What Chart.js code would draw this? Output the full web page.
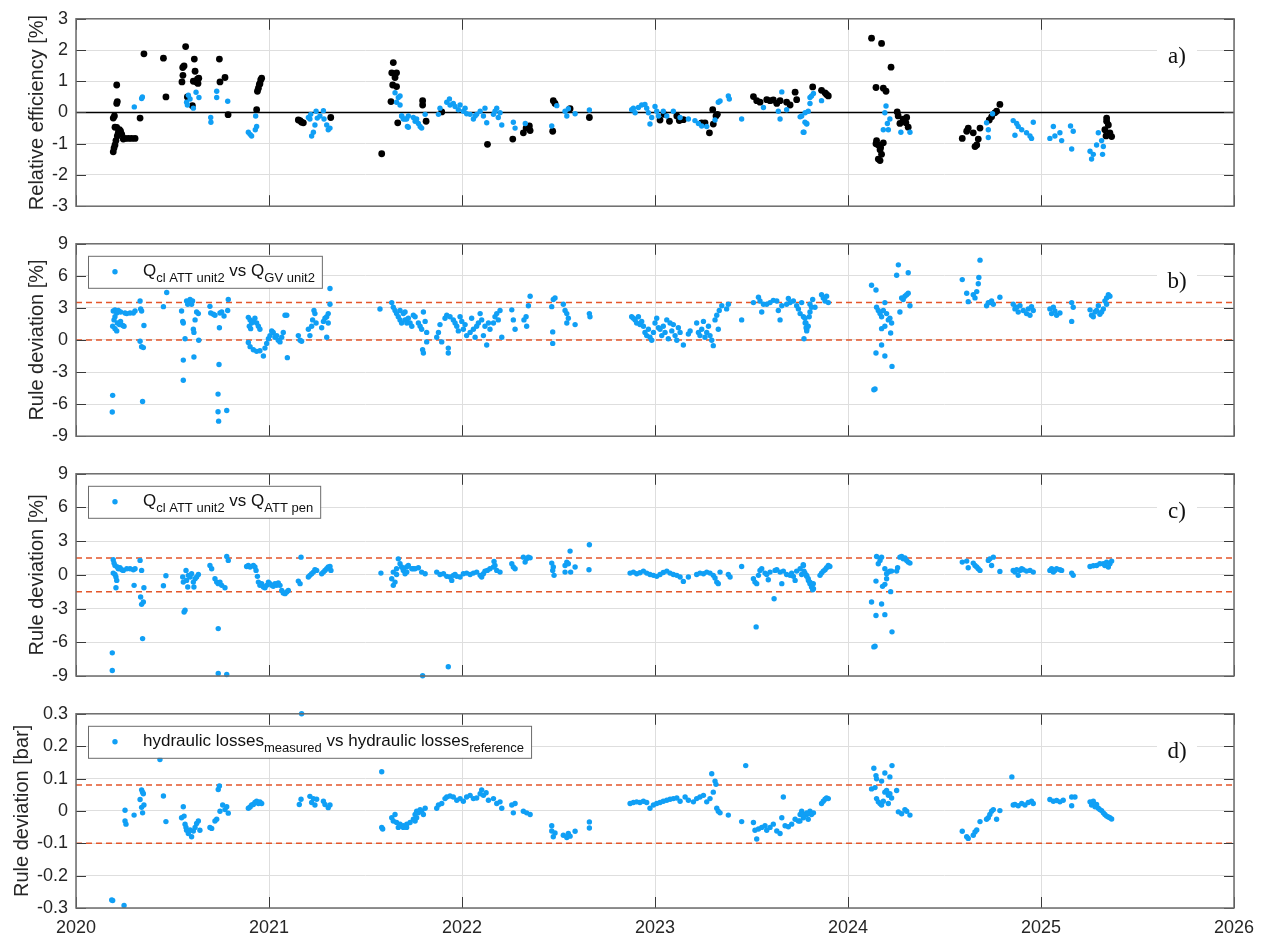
<!DOCTYPE html>
<html>
<head>
<meta charset="utf-8">
<title>Unit 2 monitoring</title>
<script src="https://cdn.jsdelivr.net/npm/chart.js@4.4.1/dist/chart.umd.min.js"></script>
<style>
  html, body { margin: 0; padding: 0; background: #fff; }
  #wrap { position: relative; width: 1266px; height: 937px; }
  #wrap canvas { position: absolute; left: 0; }
</style>
</head>
<body>
<div id="wrap">
  <canvas id="chartA" width="1266" height="225" style="top:0px"></canvas>
  <canvas id="chartB" width="1266" height="230" style="top:225px"></canvas>
  <canvas id="chartC" width="1266" height="240" style="top:455px"></canvas>
  <canvas id="chartD" width="1266" height="242" style="top:695px"></canvas>
</div>
<script>
// time axis in decimal years
const yearTicks = [2020, 2021, 2022, 2023, 2024, 2025, 2026];

// a) relative efficiency [%]
const effDark = [
  [2020.193,-1.26],[2020.197,-1.14],[2020.202,-1.04],[2020.207,-0.90],[2020.214,-0.75],[2020.219,-0.65],
  [2020.202,-0.47],[2020.211,-0.48],[2020.225,-0.55],[2020.231,-0.60],[2020.237,-0.70],[2020.193,-0.18],
  [2020.199,-0.11],[2020.211,0.29],[2020.214,0.35],[2020.211,0.88],[2020.245,-0.85],[2020.254,-0.83],
  [2020.271,-0.83],[2020.288,-0.83],[2020.306,-0.83],[2020.332,-0.18],[2020.352,1.88],[2020.453,1.74],
  [2020.466,0.50],[2020.549,0.98],[2020.554,1.19],[2020.553,1.44],[2020.560,1.49],[2020.568,2.11],
  [2020.577,0.50],[2020.603,0.22],[2020.613,1.71],[2020.617,1.32],[2020.608,1.00],[2020.625,0.97],
  [2020.629,1.07],[2020.636,1.10],[2020.632,0.93],[2020.743,1.71],[2020.746,0.98],[2020.772,1.12],
  [2020.788,-0.07],[2020.936,0.09],[2020.940,0.68],[2020.945,0.78],[2020.950,0.90],[2020.953,0.92],
  [2020.957,1.04],[2020.962,1.10],[2021.152,-0.24],[2021.161,-0.26],[2021.169,-0.31],[2021.178,-0.33],
  [2021.320,-0.16],[2021.584,-1.32],[2021.632,0.35],[2021.636,1.27],[2021.641,0.88],[2021.644,1.60],
  [2021.653,1.12],[2021.661,1.27],[2021.661,0.83],[2021.667,-0.33],[2021.796,0.38],[2021.796,0.24],
  [2021.814,-0.28],[2021.895,0.02],[2022.132,-1.02],[2022.263,-0.85],[2022.318,-0.65],[2022.332,-0.50],
  [2022.349,-0.43],[2022.353,-0.58],[2022.470,-0.60],[2022.473,0.38],[2022.482,0.29],[2022.560,0.12],
  [2022.660,-0.16],[2023.026,-0.24],[2023.047,-0.06],[2023.075,-0.28],[2023.113,-0.11],[2023.126,-0.26],
  [2023.147,-0.23],[2023.242,-0.33],[2023.259,-0.33],[2023.282,-0.65],[2023.299,0.09],[2023.302,-0.37],
  [2023.316,-0.11],[2023.323,-0.06],[2023.510,0.51],[2023.527,0.38],[2023.544,0.33],[2023.579,0.41],
  [2023.596,0.38],[2023.613,0.40],[2023.631,0.29],[2023.648,0.38],[2023.682,0.33],[2023.700,0.24],
  [2023.726,0.65],[2023.734,0.41],[2023.817,0.82],[2023.863,0.71],[2023.881,0.63],[2023.889,0.58],
  [2023.898,0.53],[2024.122,2.38],[2024.174,2.21],[2024.223,1.45],[2024.145,0.80],[2024.183,0.78],
  [2024.197,0.68],[2024.255,0.02],[2024.260,-0.11],[2024.269,-0.35],[2024.286,-0.21],[2024.300,-0.33],
  [2024.312,-0.47],[2024.304,-0.16],[2024.148,-0.90],[2024.157,-1.04],[2024.166,-1.19],[2024.174,-1.34],
  [2024.166,-1.54],[2024.157,-1.49],[2024.183,-0.97],[2024.145,-1.00],[2024.169,-1.12],[2024.592,-0.83],
  [2024.615,-0.60],[2024.623,-0.50],[2024.649,-0.65],[2024.658,-1.09],[2024.667,-1.04],[2024.675,-0.85],
  [2024.684,-0.50],[2024.732,-0.24],[2024.744,-0.14],[2024.761,-0.01],[2024.770,0.04],[2024.787,0.26],
  [2025.340,-0.18],[2025.340,-0.28],[2025.349,-0.40],[2025.331,-0.55],[2025.357,-0.65],[2025.366,-0.77],
  [2025.337,-0.75]
];
const effBlue = [
  [2020.302,0.18],[2020.340,0.45],[2020.344,0.50],[2020.573,0.33],[2020.577,0.24],[2020.582,0.55],
  [2020.591,0.43],[2020.608,0.14],[2020.622,0.65],[2020.637,0.48],[2020.698,-0.16],[2020.699,-0.31],
  [2020.729,0.68],[2020.729,0.48],[2020.786,0.36],[2020.893,-0.63],[2020.902,-0.70],[2020.910,-0.75],
  [2020.929,-0.55],[2020.936,-0.45],[2020.931,-0.11],[2021.204,-0.16],[2021.212,-0.21],[2021.216,-0.06],
  [2021.221,-0.75],[2021.230,-0.63],[2021.238,-0.40],[2021.244,0.04],[2021.250,-0.18],[2021.264,-0.11],
  [2021.282,0.06],[2021.285,-0.21],[2021.299,-0.40],[2021.307,-0.55],[2021.316,-0.50],[2021.653,0.63],
  [2021.670,0.48],[2021.679,0.24],[2021.661,0.33],[2021.687,-0.11],[2021.696,-0.21],[2021.713,-0.21],
  [2021.717,-0.45],[2021.679,0.53],[2021.688,-0.11],[2021.705,-0.21],[2021.722,-0.11],[2021.748,-0.16],
  [2021.757,-0.28],[2021.765,-0.21],[2021.774,-0.35],[2021.783,-0.45],[2021.791,-0.50],[2021.809,-0.06],
  [2021.722,-0.47],[2021.878,-0.06],[2021.886,0.14],[2021.921,0.33],[2021.935,0.43],[2021.938,0.24],
  [2021.955,0.29],[2021.964,0.19],[2021.981,0.09],[2021.990,0.24],[2022.007,0.04],[2022.016,0.14],
  [2022.024,-0.04],[2022.042,-0.06],[2022.059,-0.21],[2022.068,-0.11],[2022.076,-0.06],[2022.094,0.04],
  [2022.111,-0.11],[2022.119,0.14],[2022.128,-0.33],[2022.163,-0.06],[2022.171,0.04],[2022.180,0.14],
  [2022.188,-0.16],[2022.197,-0.01],[2022.206,-0.40],[2022.266,-0.31],[2022.275,-0.50],[2022.328,-0.35],
  [2022.465,-0.43],[2022.491,0.22],[2022.534,0.04],[2022.543,-0.11],[2022.551,0.12],[2022.586,-0.04],
  [2022.660,0.08],[2022.879,0.09],[2022.888,0.14],[2022.897,-0.01],[2022.914,0.16],[2022.931,0.24],
  [2022.948,0.26],[2022.957,0.14],[2022.966,-0.01],[2022.974,-0.37],[2022.983,-0.16],[2023.000,0.19],
  [2023.009,0.04],[2023.018,-0.11],[2023.043,0.04],[2023.061,-0.11],[2023.095,0.04],[2023.130,-0.16],
  [2023.173,-0.21],[2023.207,-0.26],[2023.225,-0.35],[2023.242,-0.43],[2023.268,-0.45],[2023.311,-0.24],
  [2023.328,0.33],[2023.337,0.37],[2023.380,0.53],[2023.385,0.43],[2023.449,-0.21],[2023.562,0.16],
  [2023.657,0.66],[2023.639,0.04],[2023.648,-0.21],[2023.682,0.09],[2023.752,-0.14],[2023.778,-0.01],
  [2023.786,-0.35],[2023.772,-0.63],[2023.803,0.48],[2023.821,0.61],[2023.760,-0.11],[2023.777,-0.31],
  [2023.786,-0.37],[2023.794,0.04],[2023.803,0.29],[2023.811,0.53],[2023.768,-0.63],[2023.863,0.38],
  [2024.191,-0.01],[2024.197,0.21],[2024.204,-0.35],[2024.217,-0.21],[2024.183,-0.55],[2024.209,-0.55],
  [2024.274,-0.63],[2024.321,-0.63],[2024.718,-0.33],[2024.727,-0.80],[2024.727,-0.55],[2024.749,-0.04],
  [2024.856,-0.26],[2024.874,-0.35],[2024.865,-0.73],[2024.882,-0.45],[2024.900,-0.55],[2024.925,-0.65],
  [2024.943,-0.75],[2024.960,-0.31],[2024.951,-0.83],[2025.046,-0.83],[2025.064,-0.45],[2025.072,-0.75],
  [2025.098,-0.65],[2025.107,-0.90],[2025.153,-0.43],[2025.167,-0.60],[2025.159,-1.17],[2025.254,-1.24],
  [2025.262,-1.49],[2025.271,-1.34],[2025.288,-1.04],[2025.297,-0.65],[2025.314,-0.90],[2025.323,-1.09],
  [2025.319,-1.34]
];

// b) Q cl ATT unit2 vs Q GV unit2 [%]
const devGv = [
  [2020.190,-5.18],[2020.188,-6.74],[2020.193,2.71],[2020.202,2.82],[2020.211,2.53],[2020.202,2.18],
  [2020.197,1.88],[2020.190,1.29],[2020.202,1.06],[2020.211,0.85],[2020.214,1.59],[2020.225,1.44],
  [2020.231,1.74],[2020.242,1.35],[2020.249,1.29],[2020.219,2.76],[2020.231,2.62],[2020.254,2.53],
  [2020.263,2.47],[2020.280,2.53],[2020.297,2.53],[2020.306,2.71],[2020.332,3.65],[2020.335,2.91],
  [2020.340,2.71],[2020.332,-0.12],[2020.340,-0.62],[2020.349,-0.71],[2020.352,1.35],[2020.345,-5.76],
  [2020.453,3.12],[2020.470,4.44],[2020.547,2.71],[2020.553,1.74],[2020.556,1.59],[2020.565,0.12],
  [2020.556,-1.88],[2020.556,-3.76],[2020.573,3.65],[2020.579,3.35],[2020.591,3.79],[2020.599,3.35],
  [2020.604,3.65],[2020.608,1.00],[2020.611,0.71],[2020.617,1.88],[2020.625,2.62],[2020.634,2.47],
  [2020.611,-1.59],[2020.636,-0.03],[2020.694,3.15],[2020.698,2.53],[2020.712,2.41],[2020.720,2.32],
  [2020.746,2.53],[2020.755,2.62],[2020.743,1.15],[2020.741,-2.29],[2020.736,-5.06],[2020.736,-6.71],
  [2020.739,-7.59],[2020.781,-6.59],[2020.789,3.79],[2020.786,2.76],[2020.767,2.24],[2020.893,2.12],
  [2020.902,1.88],[2020.898,1.29],[2020.905,1.06],[2020.910,1.59],[2020.919,1.74],[2020.927,2.03],
  [2020.936,1.59],[2020.945,1.29],[2020.953,1.00],[2020.893,-0.24],[2020.902,-0.62],[2020.919,-0.91],
  [2020.936,-1.06],[2020.953,-1.00],[2020.971,-1.50],[2020.979,-0.76],[2020.988,-0.32],[2020.997,0.12],
  [2021.005,0.41],[2021.014,0.85],[2021.022,0.71],[2021.031,0.26],[2021.040,0.41],[2021.048,-0.03],
  [2021.057,-0.18],[2021.066,0.26],[2021.074,0.71],[2021.083,2.32],[2021.092,2.32],[2021.095,-1.65],
  [2021.152,0.41],[2021.161,-0.03],[2021.169,-0.12],[2021.204,1.00],[2021.212,0.41],[2021.221,1.29],
  [2021.226,1.88],[2021.233,2.76],[2021.238,2.47],[2021.244,1.59],[2021.273,1.15],[2021.282,1.74],
  [2021.290,2.03],[2021.299,2.18],[2021.307,1.59],[2021.316,4.82],[2021.316,3.35],[2021.307,2.47],
  [2021.299,0.26],[2021.575,2.90],[2021.636,3.50],[2021.644,3.06],[2021.653,2.76],[2021.661,2.47],
  [2021.670,2.18],[2021.679,1.88],[2021.687,1.59],[2021.705,2.62],[2021.713,1.88],[2021.731,1.59],
  [2021.740,1.29],[2021.748,2.32],[2021.679,2.76],[2021.696,2.47],[2021.705,1.88],[2021.714,1.59],
  [2021.722,2.03],[2021.757,2.18],[2021.774,1.59],[2021.783,1.29],[2021.791,1.00],[2021.800,2.62],
  [2021.809,1.74],[2021.817,0.71],[2021.796,-0.91],[2021.800,-1.21],[2021.817,-0.18],[2021.869,0.26],
  [2021.878,0.71],[2021.886,1.44],[2021.895,-0.18],[2021.912,2.03],[2021.921,2.32],[2021.929,-0.76],
  [2021.929,-1.21],[2021.938,2.18],[2021.955,1.88],[2021.964,1.59],[2021.973,1.29],[2021.981,0.85],
  [2021.990,2.18],[2021.999,1.74],[2022.007,1.00],[2022.016,1.44],[2022.024,0.41],[2022.042,0.71],
  [2022.050,2.03],[2022.059,1.00],[2022.068,0.26],[2022.076,1.29],[2022.085,1.59],[2022.094,2.47],
  [2022.102,1.88],[2022.111,0.41],[2022.119,1.29],[2022.128,-0.47],[2022.137,1.59],[2022.145,1.00],
  [2022.163,1.59],[2022.171,2.18],[2022.180,2.47],[2022.188,1.88],[2022.197,2.76],[2022.206,0.26],
  [2022.258,2.82],[2022.266,1.88],[2022.275,1.00],[2022.321,1.88],[2022.332,2.18],[2022.335,1.29],
  [2022.344,3.21],[2022.353,4.09],[2022.465,3.12],[2022.473,3.79],[2022.482,3.94],[2022.470,0.76],
  [2022.470,-0.32],[2022.525,3.35],[2022.534,2.76],[2022.543,2.47],[2022.543,1.59],[2022.551,2.03],
  [2022.586,1.44],[2022.660,2.47],[2022.663,2.18],[2022.879,2.18],[2022.888,2.03],[2022.897,1.88],
  [2022.905,1.59],[2022.914,2.18],[2022.922,1.44],[2022.931,1.74],[2022.940,1.29],[2022.948,0.71],
  [2022.957,0.41],[2022.966,1.00],[2022.974,0.26],[2022.983,-0.03],[2022.992,0.71],[2023.000,1.59],
  [2023.009,2.03],[2023.018,1.15],[2023.026,1.00],[2023.035,0.41],[2023.043,1.29],[2023.052,0.71],
  [2023.061,1.88],[2023.069,0.12],[2023.078,1.59],[2023.087,0.85],[2023.095,1.44],[2023.104,0.41],
  [2023.113,-0.03],[2023.121,1.15],[2023.130,0.71],[2023.147,-0.47],[2023.173,0.56],[2023.182,0.85],
  [2023.216,1.59],[2023.225,0.71],[2023.233,0.41],[2023.242,1.00],[2023.251,1.74],[2023.259,0.26],
  [2023.268,0.71],[2023.277,1.29],[2023.285,0.41],[2023.294,-0.03],[2023.302,-0.53],[2023.311,1.88],
  [2023.320,2.32],[2023.328,1.00],[2023.333,2.76],[2023.346,3.21],[2023.371,2.91],[2023.380,3.35],
  [2023.449,1.88],[2023.510,3.50],[2023.536,4.00],[2023.544,3.65],[2023.553,2.62],[2023.562,3.35],
  [2023.579,3.35],[2023.596,3.50],[2023.613,3.71],[2023.631,3.65],[2023.639,2.76],[2023.648,1.88],
  [2023.657,3.21],[2023.682,3.35],[2023.691,3.88],[2023.700,3.50],[2023.717,3.65],[2023.734,3.21],
  [2023.743,2.91],[2023.752,2.47],[2023.760,3.50],[2023.769,2.18],[2023.778,1.59],[2023.783,1.15],
  [2023.786,0.85],[2023.772,0.12],[2023.803,3.35],[2023.817,3.79],[2023.829,3.06],[2023.777,2.03],
  [2023.782,1.59],[2023.786,1.00],[2023.794,1.29],[2023.799,2.18],[2023.803,2.62],[2023.811,3.06],
  [2023.863,4.24],[2023.872,3.94],[2023.881,3.65],[2023.889,4.09],[2023.898,3.50],[2024.122,5.12],
  [2024.145,4.68],[2024.140,-4.59],[2024.134,-4.65],[2024.148,3.06],[2024.157,2.76],[2024.166,2.47],
  [2024.174,2.18],[2024.183,2.76],[2024.191,3.50],[2024.200,2.47],[2024.209,1.88],[2024.217,2.03],
  [2024.226,1.59],[2024.174,1.06],[2024.191,1.29],[2024.221,0.65],[2024.174,-0.47],[2024.145,-1.21],
  [2024.191,-1.50],[2024.228,-2.47],[2024.252,6.06],[2024.261,7.03],[2024.312,6.29],[2024.269,2.62],
  [2024.278,3.94],[2024.286,3.79],[2024.295,4.09],[2024.304,4.24],[2024.312,4.38],[2024.321,3.21],
  [2024.592,5.65],[2024.615,4.38],[2024.623,3.59],[2024.649,4.24],[2024.658,3.94],[2024.667,4.53],
  [2024.675,5.26],[2024.678,5.85],[2024.684,7.47],[2024.718,3.21],[2024.727,3.50],[2024.735,3.50],
  [2024.744,3.65],[2024.753,3.35],[2024.787,4.00],[2024.856,3.35],[2024.865,2.91],[2024.874,3.06],
  [2024.882,2.62],[2024.891,3.21],[2024.908,2.76],[2024.925,2.47],[2024.934,2.91],[2024.943,2.32],
  [2024.951,3.12],[2024.960,2.76],[2025.046,2.91],[2025.055,2.47],[2025.064,3.06],[2025.072,2.71],
  [2025.081,2.32],[2025.098,2.53],[2025.159,3.50],[2025.167,3.06],[2025.159,1.74],[2025.254,2.82],
  [2025.262,2.32],[2025.271,2.18],[2025.280,2.62],[2025.288,2.76],[2025.297,3.21],[2025.305,2.41],
  [2025.314,2.62],[2025.323,2.91],[2025.331,3.65],[2025.340,3.94],[2025.349,4.24],[2025.357,4.09],
  [2025.340,3.35]
];

// c) Q cl ATT unit2 vs Q ATT pen [%]
const devPen = [
  [2020.188,-6.94],[2020.188,-8.51],[2020.193,1.35],[2020.197,1.05],[2020.202,0.84],[2020.193,0.16],
  [2020.202,0.04],[2020.207,-0.19],[2020.211,-0.49],[2020.207,-1.14],[2020.214,0.70],[2020.219,0.55],
  [2020.228,0.64],[2020.237,0.46],[2020.245,0.40],[2020.263,0.55],[2020.280,0.55],[2020.297,0.46],
  [2020.306,0.55],[2020.301,-0.93],[2020.332,1.29],[2020.340,0.40],[2020.335,-1.97],[2020.340,-2.62],
  [2020.349,-2.41],[2020.345,-5.67],[2020.352,-1.14],[2020.453,-0.96],[2020.466,-0.07],[2020.553,-0.19],
  [2020.556,-0.64],[2020.565,-3.15],[2020.560,-3.30],[2020.570,0.40],[2020.573,-0.49],[2020.579,-1.08],
  [2020.582,-0.04],[2020.591,-0.19],[2020.599,0.10],[2020.608,-0.64],[2020.617,-0.34],[2020.625,-0.19],
  [2020.634,0.04],[2020.611,-1.08],[2020.694,0.84],[2020.703,0.55],[2020.720,-0.34],[2020.729,-0.64],
  [2020.737,-0.78],[2020.746,-0.64],[2020.755,-0.93],[2020.772,-1.14],[2020.781,1.64],[2020.789,1.29],
  [2020.737,-4.78],[2020.737,-8.77],[2020.781,-8.86],[2020.884,0.75],[2020.893,0.84],[2020.902,0.70],
  [2020.919,0.84],[2020.927,0.70],[2020.933,0.40],[2020.940,-0.13],[2020.945,-0.64],[2020.953,-0.93],
  [2020.962,-0.78],[2020.971,-1.08],[2020.979,-1.14],[2020.988,-0.93],[2020.997,-0.64],[2021.005,-0.78],
  [2021.014,-0.93],[2021.022,-1.02],[2021.031,-0.78],[2021.040,-0.93],[2021.048,-0.72],[2021.057,-0.93],
  [2021.066,-1.38],[2021.074,-1.61],[2021.083,-1.67],[2021.092,-1.52],[2021.100,-1.38],[2021.152,-0.55],
  [2021.161,-0.78],[2021.166,1.58],[2021.204,-0.19],[2021.212,-0.04],[2021.221,0.10],[2021.230,0.25],
  [2021.238,0.46],[2021.247,0.40],[2021.273,0.10],[2021.282,0.25],[2021.290,0.40],[2021.299,0.55],
  [2021.307,0.70],[2021.316,0.75],[2021.321,0.40],[2021.580,0.16],[2021.636,-0.34],[2021.644,-0.93],
  [2021.653,-0.64],[2021.661,0.55],[2021.670,1.43],[2021.679,0.99],[2021.687,0.70],[2021.696,0.40],
  [2021.705,0.10],[2021.713,0.70],[2021.722,0.84],[2021.644,0.25],[2021.661,0.04],[2021.748,0.55],
  [2021.774,0.64],[2021.696,0.55],[2021.714,0.25],[2021.740,0.55],[2021.757,0.55],[2021.791,0.25],
  [2021.809,0.10],[2021.796,-8.98],[2021.929,-8.18],[2021.869,0.25],[2021.886,0.04],[2021.904,0.10],
  [2021.921,-0.13],[2021.938,-0.19],[2021.947,-0.49],[2021.955,-0.04],[2021.964,0.04],[2021.973,-0.13],
  [2021.990,-0.19],[2022.007,0.10],[2022.024,0.16],[2022.042,0.04],[2022.059,0.16],[2022.076,0.25],
  [2022.094,-0.04],[2022.102,-0.19],[2022.111,0.10],[2022.119,0.34],[2022.131,0.40],[2022.145,0.55],
  [2022.163,0.70],[2022.166,1.20],[2022.171,0.84],[2022.180,0.40],[2022.197,0.25],[2022.258,0.99],
  [2022.266,0.70],[2022.275,0.55],[2022.318,1.58],[2022.327,1.14],[2022.335,1.43],[2022.344,1.58],
  [2022.353,1.52],[2022.465,1.05],[2022.473,0.70],[2022.477,-0.04],[2022.470,0.40],[2022.534,0.84],
  [2022.543,1.14],[2022.551,0.99],[2022.560,2.12],[2022.563,0.25],[2022.534,0.25],[2022.586,0.70],
  [2022.660,2.68],[2022.658,0.46],[2022.871,0.16],[2022.888,0.25],[2022.905,0.10],[2022.922,0.19],
  [2022.940,0.34],[2022.957,0.16],[2022.974,0.04],[2022.992,-0.04],[2023.009,-0.13],[2023.026,0.04],
  [2023.043,0.22],[2023.061,0.34],[2023.078,0.16],[2023.095,0.04],[2023.113,-0.04],[2023.130,-0.19],
  [2023.147,-0.58],[2023.173,-0.19],[2023.216,0.04],[2023.233,0.16],[2023.251,0.10],[2023.268,0.25],
  [2023.285,0.16],[2023.302,-0.04],[2023.311,-0.28],[2023.320,-0.64],[2023.328,-0.78],[2023.337,0.25],
  [2023.380,0.04],[2023.389,-0.19],[2023.449,0.75],[2023.510,-0.34],[2023.518,-0.64],[2023.524,-4.63],
  [2023.527,-0.78],[2023.536,-0.04],[2023.544,0.40],[2023.553,0.55],[2023.570,0.16],[2023.579,0.04],
  [2023.587,-0.43],[2023.596,0.25],[2023.617,-2.12],[2023.622,0.40],[2023.631,0.46],[2023.648,0.25],
  [2023.657,-0.78],[2023.665,0.34],[2023.682,0.04],[2023.700,-0.04],[2023.708,0.16],[2023.717,-0.13],
  [2023.726,-0.49],[2023.734,0.34],[2023.752,0.55],[2023.760,0.04],[2023.769,0.84],[2023.772,0.34],
  [2023.786,-0.13],[2023.795,-0.49],[2023.803,-0.78],[2023.812,-1.02],[2023.821,-1.23],[2023.768,0.90],
  [2023.777,0.16],[2023.786,-0.04],[2023.794,-0.34],[2023.803,-0.64],[2023.811,-1.08],[2023.817,-1.32],
  [2023.820,-0.78],[2023.855,-0.04],[2023.863,0.16],[2023.872,0.34],[2023.881,0.46],[2023.889,0.64],
  [2023.898,0.84],[2023.906,0.75],[2024.122,-2.41],[2024.145,-0.55],[2024.148,1.64],[2024.157,0.99],
  [2024.166,1.29],[2024.174,1.58],[2024.145,-3.62],[2024.174,-2.59],[2024.191,-3.54],[2024.179,-1.02],
  [2024.191,-0.84],[2024.200,-0.34],[2024.209,0.25],[2024.217,0.34],[2024.226,0.34],[2024.200,0.10],
  [2024.191,0.55],[2024.221,-1.49],[2024.228,-5.07],[2024.140,-6.35],[2024.134,-6.41],[2024.252,0.34],
  [2024.257,0.64],[2024.269,1.58],[2024.278,1.64],[2024.286,1.43],[2024.295,1.52],[2024.304,1.29],
  [2024.312,1.14],[2024.321,1.05],[2024.592,1.14],[2024.615,1.23],[2024.623,0.64],[2024.649,1.05],
  [2024.658,0.84],[2024.667,0.70],[2024.675,0.55],[2024.684,0.40],[2024.727,1.29],[2024.735,1.43],
  [2024.744,0.84],[2024.753,1.58],[2024.787,0.31],[2024.856,0.40],[2024.865,0.25],[2024.874,0.46],
  [2024.882,-0.04],[2024.891,0.40],[2024.900,0.55],[2024.908,0.46],[2024.925,0.34],[2024.943,0.40],
  [2024.960,0.25],[2025.046,0.40],[2025.055,0.55],[2025.064,0.25],[2025.072,0.40],[2025.081,0.55],
  [2025.098,0.46],[2025.107,0.40],[2025.159,0.16],[2025.167,-0.04],[2025.254,0.75],[2025.271,0.81],
  [2025.288,0.84],[2025.305,0.99],[2025.323,0.99],[2025.331,0.84],[2025.340,1.14],[2025.349,0.70],
  [2025.357,0.99],[2025.366,1.23]
];

// d) hydraulic losses measured vs reference [bar]
const lossDev = [
  [2020.185,-0.275],[2020.190,-0.277],[2020.249,-0.292],[2020.254,0.002],[2020.254,-0.031],[2020.259,-0.041],
  [2020.301,-0.013],[2020.332,0.035],[2020.340,0.065],[2020.345,0.058],[2020.349,0.053],[2020.340,0.011],
  [2020.345,-0.006],[2020.352,0.018],[2020.435,0.159],[2020.453,0.046],[2020.466,-0.033],[2020.547,-0.021],
  [2020.556,0.013],[2020.560,-0.016],[2020.565,-0.041],[2020.570,-0.051],[2020.573,-0.060],[2020.582,-0.070],
  [2020.591,-0.059],[2020.599,-0.080],[2020.608,-0.062],[2020.617,-0.051],[2020.625,-0.039],[2020.634,-0.031],
  [2020.642,-0.060],[2020.694,-0.051],[2020.703,-0.054],[2020.720,-0.031],[2020.729,-0.026],[2020.737,0.066],
  [2020.743,0.077],[2020.746,-0.001],[2020.760,0.018],[2020.772,0.004],[2020.781,0.013],[2020.789,-0.007],
  [2020.893,0.008],[2020.902,0.012],[2020.910,0.018],[2020.919,0.020],[2020.927,0.026],[2020.936,0.030],
  [2020.945,0.023],[2020.953,0.028],[2020.962,0.023],[2021.169,0.300],[2021.157,0.020],[2021.166,0.036],
  [2021.212,0.045],[2021.221,0.026],[2021.230,0.038],[2021.238,0.018],[2021.247,0.036],[2021.282,0.030],
  [2021.290,0.020],[2021.307,0.010],[2021.316,0.018],[2021.584,0.121],[2021.584,-0.051],[2021.589,-0.056],
  [2021.636,-0.021],[2021.644,-0.031],[2021.653,-0.011],[2021.661,-0.036],[2021.670,-0.051],[2021.679,-0.041],
  [2021.696,-0.046],[2021.713,-0.051],[2021.731,-0.036],[2021.748,-0.026],[2021.757,-0.011],[2021.765,-0.001],
  [2021.679,-0.046],[2021.696,-0.051],[2021.714,-0.041],[2021.757,-0.031],[2021.765,-0.021],[2021.774,-0.006],
  [2021.783,0.004],[2021.791,-0.001],[2021.800,-0.011],[2021.809,0.008],[2021.869,0.008],[2021.878,0.018],
  [2021.895,0.023],[2021.912,0.038],[2021.921,0.043],[2021.938,0.046],[2021.955,0.043],[2021.973,0.033],
  [2021.990,0.038],[2022.007,0.030],[2022.024,0.043],[2022.042,0.048],[2022.059,0.038],[2022.076,0.040],
  [2022.094,0.053],[2022.102,0.065],[2022.111,0.048],[2022.125,0.056],[2022.137,0.033],[2022.163,0.038],
  [2022.180,0.023],[2022.197,0.028],[2022.206,0.008],[2022.258,0.018],[2022.266,-0.006],[2022.275,0.023],
  [2022.318,-0.001],[2022.335,-0.006],[2022.353,-0.011],[2022.465,-0.046],[2022.465,-0.062],[2022.473,-0.080],
  [2022.482,-0.068],[2022.525,-0.075],[2022.543,-0.082],[2022.551,-0.070],[2022.560,-0.078],[2022.586,-0.063],
  [2022.660,-0.034],[2022.660,-0.053],[2022.871,0.023],[2022.888,0.026],[2022.905,0.028],[2022.922,0.026],
  [2022.940,0.030],[2022.957,0.026],[2022.974,0.008],[2022.992,0.018],[2023.009,0.023],[2023.026,0.026],
  [2023.043,0.030],[2023.061,0.033],[2023.078,0.036],[2023.095,0.038],[2023.113,0.040],[2023.130,0.030],
  [2023.156,0.043],[2023.173,0.033],[2023.199,0.028],[2023.216,0.038],[2023.233,0.043],[2023.251,0.048],
  [2023.268,0.028],[2023.285,0.038],[2023.294,0.115],[2023.302,0.058],[2023.311,0.092],[2023.316,0.082],
  [2023.320,0.008],[2023.328,-0.001],[2023.337,-0.006],[2023.380,-0.013],[2023.449,-0.033],[2023.470,0.140],
  [2023.510,-0.036],[2023.518,-0.060],[2023.527,-0.087],[2023.536,-0.056],[2023.553,-0.051],[2023.570,-0.046],
  [2023.579,-0.060],[2023.596,-0.051],[2023.613,-0.041],[2023.631,-0.062],[2023.648,-0.070],[2023.657,-0.021],
  [2023.665,0.043],[2023.674,-0.046],[2023.691,-0.049],[2023.708,-0.041],[2023.726,-0.026],[2023.743,-0.031],
  [2023.752,-0.011],[2023.760,-0.001],[2023.769,-0.021],[2023.786,-0.011],[2023.803,-0.001],[2023.821,-0.006],
  [2023.751,-0.031],[2023.768,-0.011],[2023.786,-0.006],[2023.811,-0.011],[2023.794,-0.026],[2023.863,0.023],
  [2023.872,0.030],[2023.881,0.036],[2023.889,0.040],[2023.898,0.038],[2024.134,0.132],[2024.145,0.109],
  [2024.148,0.099],[2024.174,0.092],[2024.191,0.117],[2024.217,0.105],[2024.228,0.140],[2024.122,0.068],
  [2024.140,0.072],[2024.148,0.038],[2024.157,0.028],[2024.166,0.023],[2024.174,0.018],[2024.183,0.030],
  [2024.191,0.058],[2024.200,0.063],[2024.209,0.048],[2024.217,0.053],[2024.226,0.040],[2024.209,0.023],
  [2024.252,0.063],[2024.261,-0.003],[2024.278,-0.009],[2024.295,0.004],[2024.304,-0.001],[2024.321,-0.013],
  [2024.592,-0.063],[2024.615,-0.080],[2024.623,-0.085],[2024.649,-0.075],[2024.658,-0.065],[2024.667,-0.059],
  [2024.684,-0.033],[2024.718,-0.026],[2024.727,-0.021],[2024.735,-0.011],[2024.744,-0.001],[2024.753,0.004],
  [2024.770,-0.026],[2024.787,0.001],[2024.849,0.105],[2024.856,0.018],[2024.865,0.020],[2024.882,0.016],
  [2024.900,0.023],[2024.917,0.018],[2024.934,0.026],[2024.951,0.030],[2024.960,0.023],[2025.046,0.035],
  [2025.064,0.030],[2025.081,0.032],[2025.098,0.028],[2025.115,0.033],[2025.159,0.016],[2025.159,0.043],
  [2025.176,0.043],[2025.254,0.028],[2025.262,0.018],[2025.271,0.030],[2025.280,0.013],[2025.288,0.020],
  [2025.297,0.008],[2025.305,0.004],[2025.314,0.001],[2025.323,-0.006],[2025.331,-0.011],[2025.340,-0.016],
  [2025.349,-0.019],[2025.357,-0.021],[2025.366,-0.025]
];

// tolerance bands per panel
const bandGv = [3.5, 0];
const bandPen = [1.5, -1.5];
const bandLoss = [0.08, -0.1];

// legend texts: [text, isSubscript]
const legendGv = [['Q', false], ['cl ATT unit2', true], [' vs Q', false], ['GV unit2', true]];
const legendPen = [['Q', false], ['cl ATT unit2', true], [' vs Q', false], ['ATT pen', true]];
const legendLoss = [['hydraulic losses', false], ['measured', true], [' vs hydraulic losses', false], ['reference', true]];

const BLUE = '#109ff5';
const DARK = '#000000';
const ORANGE = '#e4562a';
const GRID = '#dedede';
const FRAME = '#6c6c6c';
const TEXT = '#262626';
const SANS = '"Liberation Sans", Arial, Helvetica, sans-serif';

function decorations(p) {
  return {
    id: 'panelDecor',
    beforeDatasetsDraw(chart) {
      const { ctx, chartArea: a, scales: { y } } = chart;
      ctx.save();
      // panel letter on a white patch over the grid
      ctx.fillStyle = '#fff';
      ctx.fillRect(a.right - 77, a.top + 26, 40, 24);
      ctx.fillStyle = '#111';
      ctx.font = '23px "Liberation Serif", "Times New Roman", serif';
      ctx.textAlign = 'center';
      ctx.textBaseline = 'middle';
      ctx.fillText(p.letter, a.right - 57, a.top + 38);
      // reference lines
      p.refs.forEach(v => {
        const py = y.getPixelForValue(v);
        ctx.beginPath();
        ctx.moveTo(a.left, py);
        ctx.lineTo(a.right, py);
        if (p.refSolid) {
          ctx.strokeStyle = DARK;
          ctx.lineWidth = 1.5;
          ctx.setLineDash([]);
        } else {
          ctx.strokeStyle = ORANGE;
          ctx.lineWidth = 1.5;
          ctx.setLineDash([6, 4]);
        }
        ctx.stroke();
      });
      ctx.restore();
    },
    afterDatasetsDraw(chart) {
      const { ctx, chartArea: a, scales: { x, y } } = chart;
      ctx.save();
      // inward tick marks on all four sides
      ctx.strokeStyle = '#3a3a3a';
      ctx.lineWidth = 1;
      ctx.beginPath();
      y.ticks.forEach(t => {
        const py = Math.round(y.getPixelForValue(t.value)) + 0.5;
        ctx.moveTo(a.left, py); ctx.lineTo(a.left + 10, py);
        ctx.moveTo(a.right - 10, py); ctx.lineTo(a.right, py);
      });
      x.ticks.forEach(t => {
        const px = Math.round(x.getPixelForValue(t.value)) + 0.5;
        ctx.moveTo(px, a.top); ctx.lineTo(px, a.top + 11);
        ctx.moveTo(px, a.bottom - 11); ctx.lineTo(px, a.bottom);
      });
      ctx.stroke();
      // box
      ctx.strokeStyle = FRAME;
      ctx.lineWidth = 1.5;
      ctx.strokeRect(a.left, a.top, a.right - a.left, a.bottom - a.top);
      // legend with subscripts
      if (p.legend) {
        const mainFont = '17px ' + SANS;
        const subFont = '13px ' + SANS;
        let tw = 0;
        p.legend.forEach(([s, sub]) => {
          ctx.font = sub ? subFont : mainFont;
          tw += ctx.measureText(s).width;
        });
        const bx = a.left + 12, by = a.top + 12, bh = 32, bw = 55 + tw + 7;
        ctx.fillStyle = '#fff';
        ctx.fillRect(bx, by, bw, bh);
        ctx.strokeStyle = FRAME;
        ctx.lineWidth = 1;
        ctx.strokeRect(bx + 0.5, by + 0.5, bw, bh);
        ctx.fillStyle = BLUE;
        ctx.beginPath();
        ctx.arc(bx + 27, by + 16, 2.7, 0, Math.PI * 2);
        ctx.fill();
        ctx.fillStyle = '#111';
        ctx.textAlign = 'left';
        ctx.textBaseline = 'alphabetic';
        let tx = bx + 55;
        p.legend.forEach(([s, sub]) => {
          ctx.font = sub ? subFont : mainFont;
          ctx.fillText(s, tx, by + 16 + (sub ? 10 : 4));
          tx += ctx.measureText(s).width;
        });
      }
      ctx.restore();
    }
  };
}

function buildPanel(canvasId, p) {
  return new Chart(document.getElementById(canvasId), {
    type: 'scatter',
    data: {
      datasets: p.series.map(s => ({
        data: s.pts.map(([x, y]) => ({ x, y })),
        backgroundColor: s.color,
        borderWidth: 0,
        pointRadius: s.r,
        pointHoverRadius: s.r,
        pointBorderWidth: 0,
        clip: false
      }))
    },
    options: {
      responsive: false,
      animation: false,
      events: [],
      layout: { padding: { top: p.padTop, right: 32, left: 0, bottom: 0 } },
      plugins: { legend: { display: false }, tooltip: { enabled: false } },
      scales: {
        x: {
          type: 'linear',
          min: yearTicks[0],
          max: yearTicks[yearTicks.length - 1],
          afterFit: s => { s.height = p.xAxisH; },
          afterBuildTicks: s => { s.ticks = yearTicks.map(v => ({ value: v })); },
          ticks: {
            display: p.showYears,
            padding: 9,
            maxRotation: 0,
            autoSkip: false,
            color: TEXT,
            font: { size: 18, family: SANS },
            callback: v => String(v)
          },
          grid: { color: GRID, lineWidth: 1, drawTicks: false },
          border: { display: false }
        },
        y: {
          min: p.yTicks[0],
          max: p.yTicks[p.yTicks.length - 1],
          afterFit: s => { s.width = 76; },
          afterBuildTicks: s => { s.ticks = p.yTicks.map(v => ({ value: v })); },
          ticks: {
            padding: 8,
            color: TEXT,
            font: { size: 18, family: SANS },
            callback: v => String(Math.round(v * 100) / 100)
          },
          title: {
            display: true,
            text: p.yTitle,
            color: TEXT,
            font: { size: 20, family: SANS, lineHeight: 1.2 },
            padding: { top: p.titlePad, bottom: 0 }
          },
          grid: { color: GRID, lineWidth: 1, drawTicks: false },
          border: { display: false }
        }
      }
    },
    plugins: [decorations(p)]
  });
}

buildPanel('chartA', {
  series: [{ pts: effBlue, color: BLUE, r: 2.7 }, { pts: effDark, color: DARK, r: 3.4 }],
  yTicks: [-3, -2, -1, 0, 1, 2, 3],
  yTitle: 'Relative efficiency [%]',
  titlePad: 25, padTop: 10, xAxisH: 12, showYears: false,
  refs: [0], refSolid: true, letter: 'a)', legend: null
});

buildPanel('chartB', {
  series: [{ pts: devGv, color: BLUE, r: 2.7 }],
  yTicks: [-9, -6, -3, 0, 3, 6, 9],
  yTitle: 'Rule deviation [%]',
  titlePad: 25, padTop: 16, xAxisH: 10, showYears: false,
  refs: bandGv, refSolid: false, letter: 'b)', legend: legendGv
});

buildPanel('chartC', {
  series: [{ pts: devPen, color: BLUE, r: 2.7 }],
  yTicks: [-9, -6, -3, 0, 3, 6, 9],
  yTitle: 'Rule deviation [%]',
  titlePad: 25, padTop: 18, xAxisH: 19, showYears: false,
  refs: bandPen, refSolid: false, letter: 'c)', legend: legendPen
});

buildPanel('chartD', {
  series: [{ pts: lossDev, color: BLUE, r: 2.7 }],
  yTicks: [-0.3, -0.2, -0.1, 0, 0.1, 0.2, 0.3],
  yTitle: 'Rule deviation [bar]',
  titlePad: 10, padTop: 10, xAxisH: 29, showYears: true,
  refs: bandLoss, refSolid: false, letter: 'd)', legend: legendLoss
});
</script>
</body>
</html>
